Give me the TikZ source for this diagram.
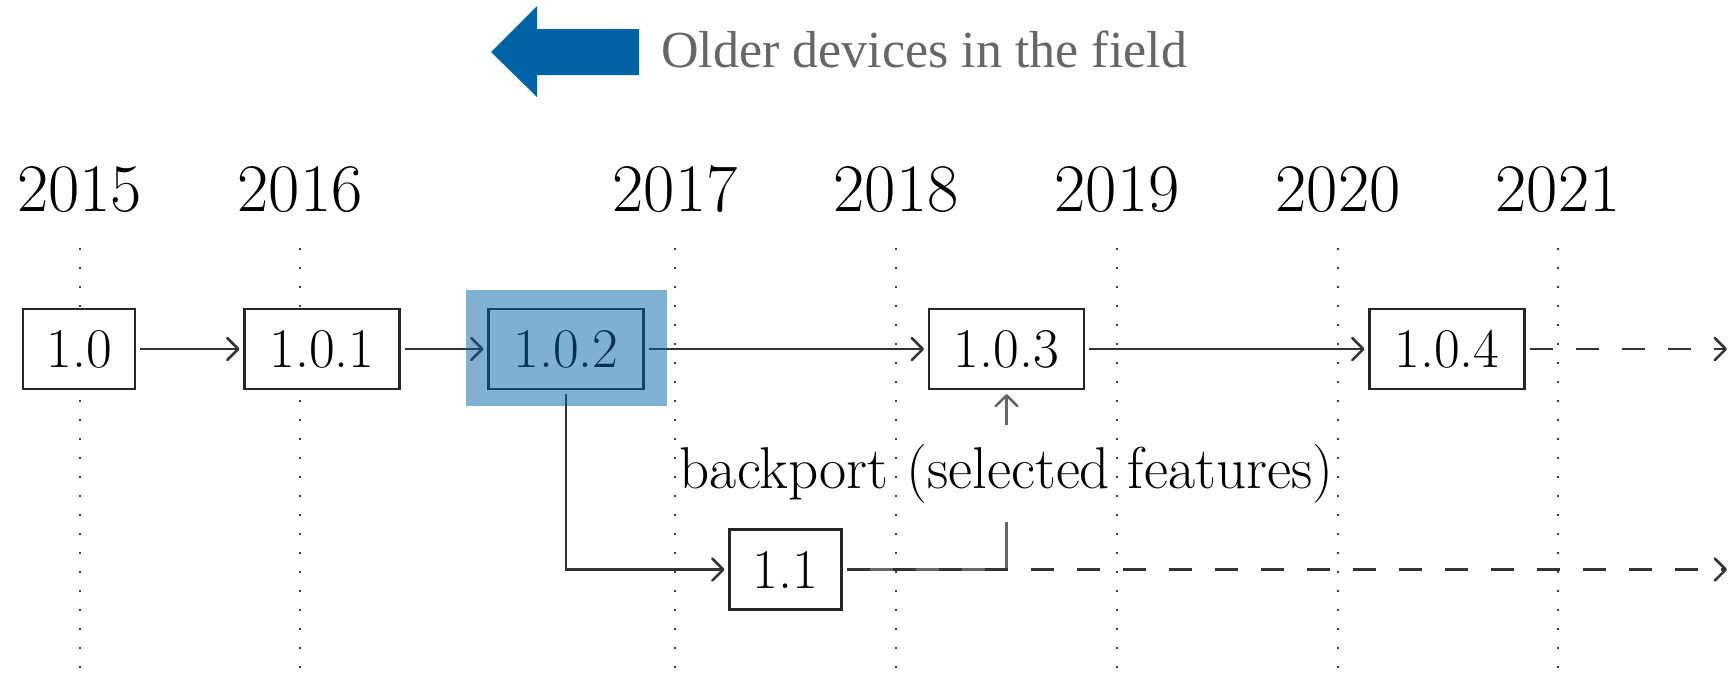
\documentclass[tikz,border=0pt]{standalone}
\usepackage{fontspec}
\newfontfamily\captionfont{Liberation Serif}
\usetikzlibrary{arrows.meta}
\definecolor{fieldblue}{RGB}{0,99,166}
\definecolor{captiongray}{RGB}{102,102,102}

\begin{document}
\begin{tikzpicture}[x=0.5pt,y=-0.5pt,
  tip/.style={-{Straight Barb[length=5.5pt,width=11pt,line cap=round,line join=round]}},
  version/.style={draw=black!85, fill=white, line width=1.3pt,
    minimum height=40pt, inner xsep=0pt, inner ysep=0pt, outer sep=2.5pt,
    font=\fontsize{28}{28}\selectfont},
  short/.style={version, minimum width=56pt},
  long/.style={version, minimum width=77.5pt},
  year/.style={anchor=base, inner sep=0pt, font=\fontsize{34}{34}\selectfont},
  timeline/.style={line width=1pt, dash pattern=on 1pt off 8.5pt, black!75},
  flow/.style={line width=1.25pt, black!80, tip},
  future/.style={flow, dash pattern=on 11.5pt off 11.5pt},
  backport/.style={line width=1.25pt, black!60},
]
\useasboundingbox (0,0) rectangle (1728,681);

% direction marker
\fill[fieldblue] (491,52) -- (537,6) -- (537,29) -- (639,29) -- (639,75)
  -- (537,75) -- (537,97) -- cycle;
\node[anchor=base west, inner sep=0pt, text=captiongray,
  font=\captionfont\fontsize{26}{26}\selectfont] (older) at (661,67)
  {Older devices in the field};

% years and their guide lines
\foreach \x/\yr in {79.5/2015, 300/2016, 675/2017, 896/2018,
                    1117/2019, 1338/2020, 1558/2021} {
  \node[year] (y\yr) at (\x,211.5) {\yr};
  \draw[timeline] (\x,248) -- (\x,678);
}

% releases
\node[short] (v10)  at (79,349)     {1.0};
\node[long]  (v101) at (322,349)    {1.0.1};
\node[long]  (v102) at (566,349)    {1.0.2};
\node[long]  (v103) at (1006.5,349) {1.0.3};
\node[long]  (v104) at (1447,349)   {1.0.4};
\node[short] (v11)  at (785.5,569.5) {1.1};
\node[inner sep=0pt, minimum height=48pt, font=\fontsize{29.5}{29.5}\selectfont]
  (bp) at (1006.5,473.5) {backport (selected features)};

\coordinate (end1) at (1727,349);
\coordinate (end2) at (1727,569.5);

% history
\draw[backport] (v11.east) -| (bp.south);
\draw[backport, tip] (bp.north) -- (v103.south);
\draw[flow] (v10.east) -- (v101.west);
\draw[flow] (v101.east) -- (v102.west);
\draw[flow] (v102.east) -- (v103.west);
\draw[flow] (v103.east) -- (v104.west);
\draw[future] (v104.east) -- (end1);
\draw[flow] (v102.south) |- (v11.west);
\draw[future] (v11.east) -- (end2);

% highlighted release
\fill[fieldblue, opacity=0.5] (465.6,290) rectangle (667,406);
\end{tikzpicture}
\end{document}
